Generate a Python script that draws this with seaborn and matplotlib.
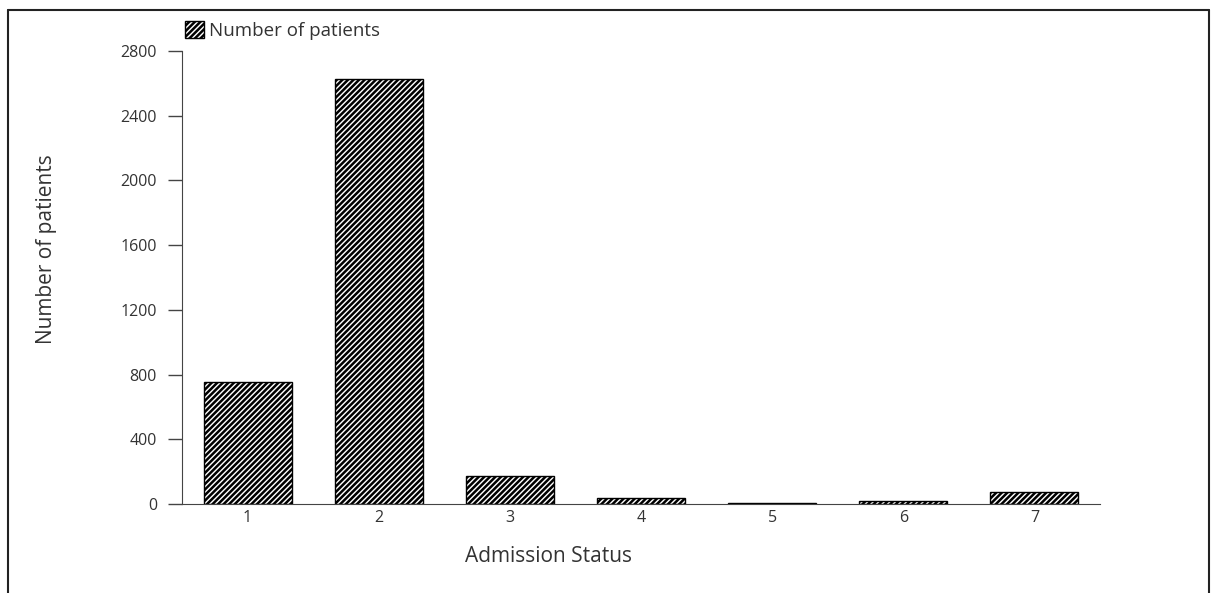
import matplotlib
matplotlib.use("Agg")
import matplotlib.pyplot as plt
import seaborn as sns
from matplotlib.patches import Patch
from matplotlib.lines import Line2D

# data
categories = ["1", "2", "3", "4", "5", "6", "7"]
patients = [755, 2625, 175, 35, 5, 18, 74]
yticks = [0, 400, 800, 1200, 1600, 2000, 2400, 2800]

sns.set_style("white")
plt.rcParams["font.family"] = ["Open Sans", "DejaVu Sans"]
plt.rcParams["hatch.linewidth"] = 1.8
plt.rcParams["hatch.color"] = "black"

fig = plt.figure(figsize=(12.11, 5.93), dpi=100)
ax = fig.add_axes([0.1503, 0.150, 0.758, 0.764])

sns.barplot(x=categories, y=patients, color="white", edgecolor="black",
            linewidth=1.0, width=0.67, hatch="//////", ax=ax)

ax.set_xlim(-0.5, 6.5)
ax.set_ylim(0, 2800)
ax.set_yticks(yticks)
ax.set_yticklabels([str(v) for v in yticks])

txt = "#333333"
ax.tick_params(axis="y", direction="out", length=10, width=1, color="#444444",
               labelsize=11.5, labelcolor=txt, left=True, pad=8)
ax.tick_params(axis="x", length=0, labelsize=11.5, labelcolor=txt, pad=4)

for s in ["top", "right"]:
    ax.spines[s].set_visible(False)
ax.spines["left"].set_color("#444444")
ax.spines["bottom"].set_color("#444444")

ax.set_xlabel("Admission Status", fontsize=15, color=txt)
ax.set_ylabel("Number of patients", fontsize=15, color=txt)
ax.xaxis.set_label_coords(0.399, -0.092)
ax.yaxis.set_label_coords(-0.136, 0.563)

handle = Patch(facecolor="white", edgecolor="black", hatch="//////", linewidth=1.0)
ax.legend([handle], ["Number of patients"], loc="lower left",
          bbox_to_anchor=(-0.005, 1.008), frameon=False, fontsize=13.5,
          handlelength=1.0, handleheight=1.0, handletextpad=0.3,
          borderaxespad=0, labelcolor=txt)

# outer frame of the figure
frame_kw = dict(color="#222222", linewidth=1.5, transform=fig.transFigure)
fig.add_artist(Line2D([8 / 1211, 8 / 1211], [0, 1 - 10 / 593], **frame_kw))
fig.add_artist(Line2D([8 / 1211, 1209 / 1211], [1 - 10 / 593, 1 - 10 / 593], **frame_kw))
fig.add_artist(Line2D([1209 / 1211, 1209 / 1211], [0, 1 - 10 / 593], **frame_kw))

fig.savefig("out.png", dpi=100, facecolor="white")
